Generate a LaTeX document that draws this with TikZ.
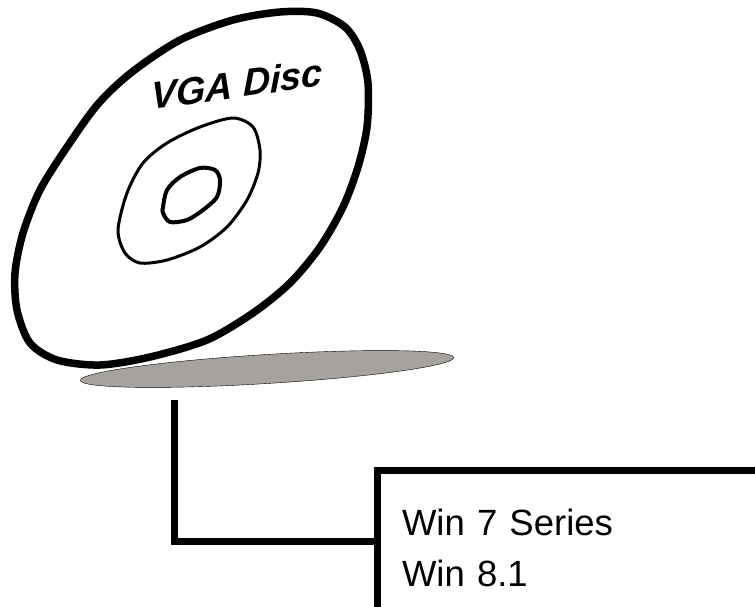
\documentclass[tikz,border=0pt]{standalone}
\usepackage{fontspec}
\setmainfont{Liberation Sans}
\usetikzlibrary{shapes.geometric}
\definecolor{shadowgray}{RGB}{166,162,158}

\begin{document}
\begin{tikzpicture}[x=1pt,y=-1pt,
    rim/.style={line width=7.5pt,line join=round},
    ring/.style={line width=3pt,line join=round},
    hole/.style={line width=4pt,line join=round},
    lead/.style={line width=7pt},
    shade/.style={ellipse,draw,thin,fill=shadowgray,inner sep=0pt},
    osbox/.style={draw,line width=7pt,outer sep=0pt,anchor=north west,
      align=left,inner xsep=25pt,inner ysep=39pt,text width=420pt,
      text depth=150pt,font=\fontsize{36.5}{51}\selectfont}]
  \useasboundingbox (0,0) rectangle (755,607);
  \clip (0,0) rectangle (755,607);

  \draw[rim] plot[smooth cycle] coordinates {
    (317,13) (345,27) (360,50) (368,83) (367,127) (358,167) (343,207)
    (320,247) (290,283) (253,313) (207,340) (150,357) (100,365) (57,360)
    (30,343) (17,310) (15,273) (23,233) (40,190) (67,147) (98,104)
    (132,72) (180,40) (233,20) (280,12)};
  \draw[ring] plot[smooth cycle] coordinates {
    (118,230) (127,193) (143,163) (167,143) (200,127) (233,118) (253,127)
    (260,150) (258,173) (247,200) (227,227) (200,247) (167,260) (140,263)
    (125,253)};
  \draw[hole] plot[smooth cycle] coordinates {
    (163,207) (167,190) (180,177) (200,168) (215,170) (220,180) (217,197)
    (203,210) (187,220) (170,222) (163,213)};
  \node[rotate=8,xslant=0.15,font=\fontsize{38}{40}\selectfont\bfseries\itshape]
    (title) at (237,84) {VGA Disc};

  \node[shade,rotate=3.5,minimum width=374pt,minimum height=29pt]
    (shadow) at (267,369) {};

  \node[osbox] (oslist) at (377,470) {Win 7 Series\\Win 8.1};
  \coordinate (drop) at (174,400);
  \draw[lead] (drop) |- ([yshift=-71pt]oslist.north west);
\end{tikzpicture}
\end{document}
